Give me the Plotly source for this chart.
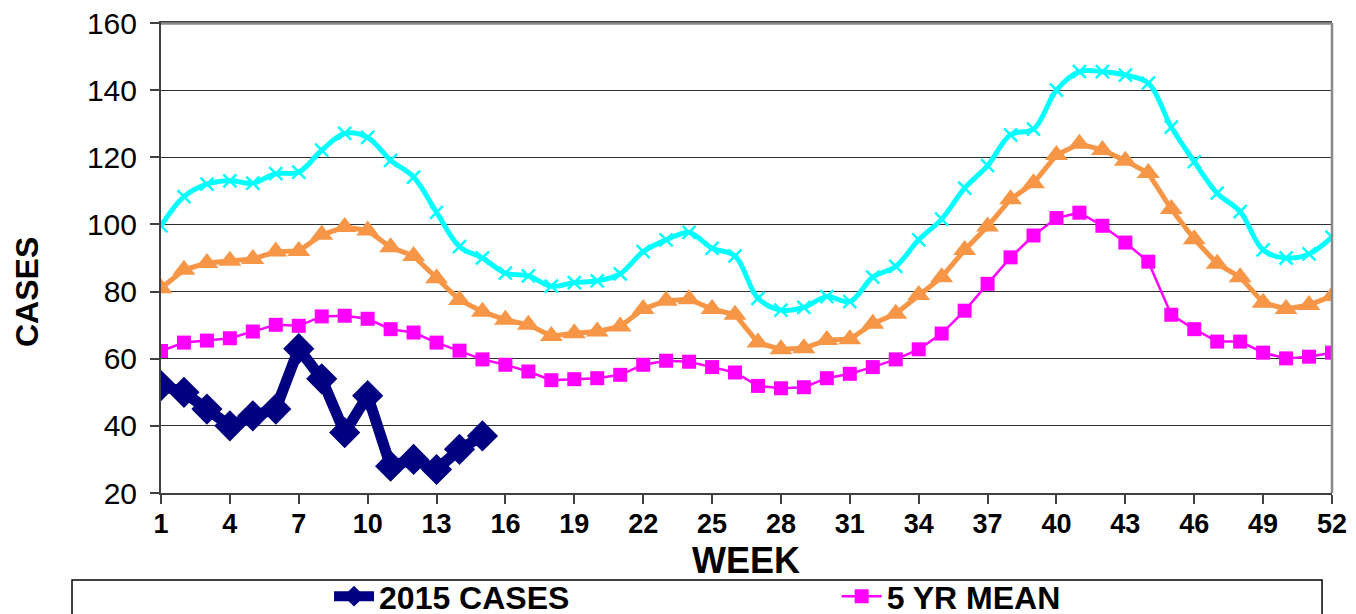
import plotly.graph_objects as go

weeks = list(range(1, 53))
weeks_2015 = list(range(1, 16))

cases_2015 = [52, 50, 45, 40, 43, 45, 63, 54, 38, 49, 28, 30, 27, 33, 37]

mean_5yr = [62.3, 64.8, 65.4, 66.1, 68.1, 70.1, 69.8, 72.6, 72.8, 71.9,
            68.8, 67.8, 64.8, 62.4, 59.8, 58.2, 56.2, 53.6, 53.9, 54.2,
            55.2, 58.2, 59.4, 59.1, 57.5, 55.9, 51.9, 51.2, 51.5, 54.2,
            55.5, 57.5, 59.8, 62.8, 67.5, 74.3, 82.3, 90.2, 96.7, 101.9,
            103.5, 99.6, 94.6, 88.9, 73.1, 68.8, 65.1, 65.1, 61.8, 60.1,
            60.6, 61.8]

plus_1sd = [81.0, 86.5, 88.5, 89.2, 89.7, 91.9, 92.1, 96.9, 99.2, 98.2,
            93.2, 90.6, 84.0, 77.5, 74.0, 71.6, 70.1, 66.8, 67.6, 68.1,
            69.6, 74.8, 77.3, 77.7, 74.8, 73.1, 64.8, 62.8, 63.1, 65.6,
            65.8, 70.4, 73.4, 79.0, 84.3, 92.4, 99.4, 107.5, 112.3, 120.7,
            124.0, 122.2, 119.0, 115.3, 104.6, 95.6, 88.3, 84.3, 76.7, 74.8,
            76.0, 78.7]

plus_2sd = [99.6, 108.3, 112.0, 113.0, 112.3, 115.1, 115.6, 122.1, 127.1, 125.9,
            119.1, 114.1, 103.6, 93.4, 90.0, 85.5, 84.7, 81.6, 82.7, 83.2,
            85.3, 91.9, 95.4, 97.6, 92.9, 90.6, 78.0, 74.5, 75.3, 78.5,
            77.0, 84.3, 87.5, 95.4, 101.6, 110.8, 117.5, 126.7, 128.4, 140.0,
            145.5, 145.5, 144.5, 142.1, 129.0, 118.7, 109.3, 103.8, 92.4, 90.0,
            91.2, 96.2]

x_ticks = list(range(1, 53, 3))
y_ticks = list(range(20, 161, 20))

FONT = "Arial, Liberation Sans, sans-serif"

fig = go.Figure()

fig.add_trace(go.Scatter(
    x=weeks, y=plus_2sd, name="MEAN + 2 SD", mode="lines+markers",
    line=dict(color="#00FFFF", width=5, shape="spline", smoothing=1),
    marker=dict(symbol="x-thin", size=13, line=dict(color="#00FFFF", width=2.5)),
    showlegend=False))

fig.add_trace(go.Scatter(
    x=weeks, y=plus_1sd, name="MEAN + 1 SD", mode="lines+markers",
    line=dict(color="#F79646", width=5),
    marker=dict(symbol="triangle-up", size=20, color="#F79646"),
    showlegend=False))

fig.add_trace(go.Scatter(
    x=weeks, y=mean_5yr, name="5 YR MEAN", mode="lines+markers",
    line=dict(color="#FF00FF", width=2.5),
    marker=dict(symbol="square", size=14, color="#FF00FF"),
    legend="legend2"))

fig.add_trace(go.Scatter(
    x=weeks_2015, y=cases_2015, name="2015 CASES", mode="lines+markers",
    line=dict(color="#000080", width=11),
    marker=dict(symbol="diamond", size=24, color="#000080"),
    legend="legend"))

fig.update_layout(
    width=1356, height=614,
    margin=dict(l=153, r=32, t=15, b=129, autoexpand=False),
    paper_bgcolor="white", plot_bgcolor="white",
    font=dict(family=FONT, color="black"),
    xaxis=dict(
        range=[1, 52], tickmode="array", tickvals=x_ticks,
        ticktext=[str(v) for v in x_ticks],
        tickfont=dict(size=27, family=FONT, color="black", weight="bold"),
        ticks="outside", ticklen=9, tickcolor="#404040", tickwidth=1.5,
        ticklabelstandoff=-3,
        showline=True, linecolor="#404040", linewidth=2, mirror=True,
        showgrid=False, zeroline=False, automargin=False,
        ticklabeloverflow="allow",
    ),
    yaxis=dict(
        range=[20, 160], tickmode="array", tickvals=y_ticks,
        tickfont=dict(size=30, family=FONT, color="black"),
        ticks="outside", ticklen=9, tickcolor="#404040", tickwidth=1.5,
        ticklabelstandoff=7, ticklabeloverflow="allow",
        showline=True, linecolor="#404040", linewidth=2,
        showgrid=True, gridcolor="#303030", gridwidth=1.2,
        zeroline=False, automargin=False,
    ),
    annotations=[
        dict(text="<b>WEEK</b>", xref="paper", yref="paper", x=0.4996, y=-0.1426,
             xanchor="center", yanchor="middle", showarrow=False,
             font=dict(size=36, family=FONT, color="black")),
        dict(text="<b>CASES</b>", xref="paper", yref="paper", x=-0.1144, y=0.4277,
             xanchor="center", yanchor="middle", showarrow=False, textangle=-90,
             font=dict(size=32, family=FONT, color="black")),
    ],
    legend=dict(
        orientation="h", x=0.1435, xanchor="left", y=-0.22, yanchor="middle",
        font=dict(size=32, family=FONT, color="black", weight="bold"),
        bgcolor="rgba(0,0,0,0)", borderwidth=0, itemwidth=40,
    ),
    legend2=dict(
        orientation="h", x=0.577, xanchor="left", y=-0.22, yanchor="middle",
        font=dict(size=32, family=FONT, color="black", weight="bold"),
        bgcolor="rgba(0,0,0,0)", borderwidth=0, itemwidth=40,
    ),
    shapes=[
        dict(type="line", xref="paper", yref="paper", x0=0, x1=1, y0=0.999, y1=0.999,
             line=dict(color="#888888", width=2.5), layer="above"),
        dict(type="line", xref="paper", yref="paper", x0=1, x1=1, y0=0, y1=1,
             line=dict(color="#888888", width=2.5)),
        dict(type="rect", xref="paper", yref="paper", x0=-0.076, x1=0.9915,
             y0=-0.40, y1=-0.185, line=dict(color="black", width=1.5),
             fillcolor="rgba(0,0,0,0)", layer="below"),
    ],
)

fig.write_html("out.html")
